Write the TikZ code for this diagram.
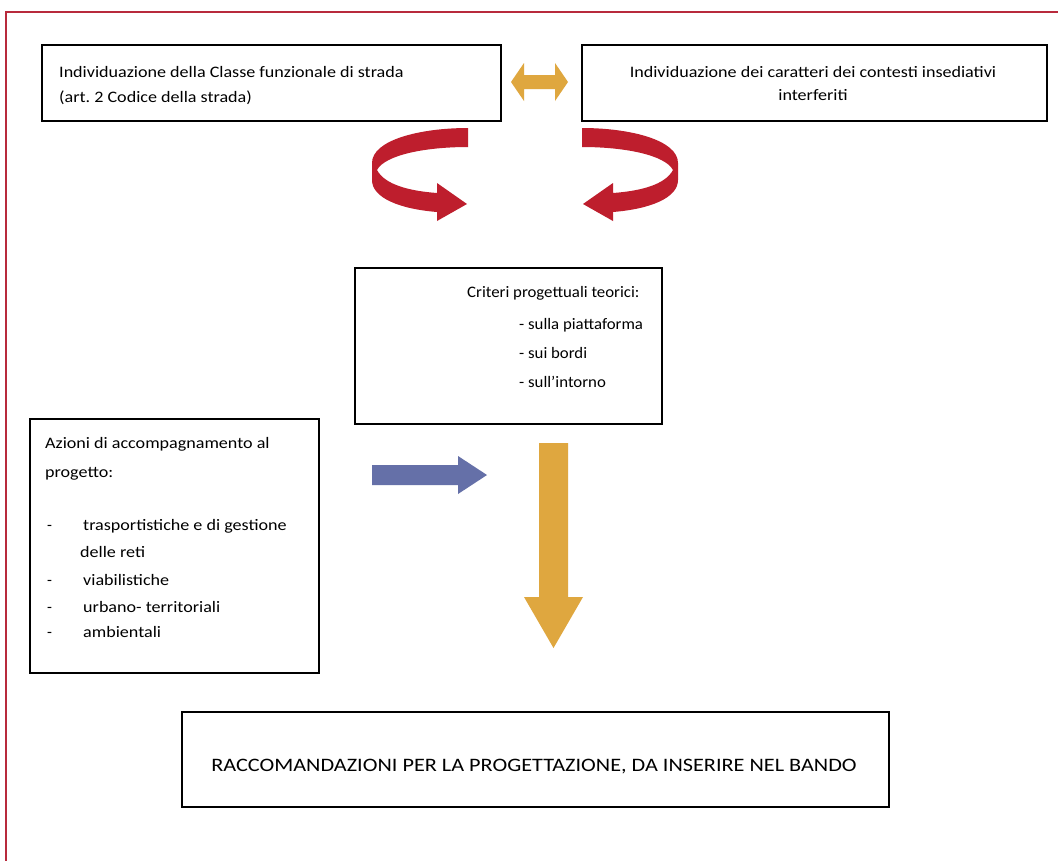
\documentclass[tikz,border=0pt]{standalone}
\usepackage{fontspec}
\setmainfont{Carlito}
\frenchspacing
\definecolor{framered}{HTML}{B82A3C}
\definecolor{arrred}{HTML}{BE1E2D}
\definecolor{arrorange}{HTML}{DFA73F}
\definecolor{arrblue}{HTML}{6570A8}
\newcommand\widetxt[1]{\scalebox{1.13}[1]{#1}}
\newcommand\crittxt[1]{\scalebox{1.05}[1]{#1}}
\tikzset{
  box/.style={draw=black, line width=1.6pt, fill=white, inner sep=0pt, anchor=north west},
  txt/.style={anchor=base west, inner sep=0pt, font=\fontsize{16}{19}\selectfont},
  ctxt/.style={anchor=base, inner sep=0pt, font=\fontsize{16}{19}\selectfont},
  curvarrow/.pic={
    \fill[arrred] (468,128) -- (468,147)
      .. controls (425,147) and (385,155) .. (377,170)
      .. controls (385,185) and (410,191) .. (437,193)
      -- (437,183) -- (467,204) -- (437,221) -- (437,212)
      .. controls (400,209) and (372,198) .. (372,180)
      -- (372,163)
      .. controls (372,140) and (420,128) .. (468,128) -- cycle;
  }
}
\begin{document}
\begin{tikzpicture}[x=1pt,y=-1pt]
\clip (0,0) rectangle (1058,860);
\fill[white] (0,0) rectangle (1058,860);
\draw[framered, line width=2pt] (6,12) rectangle (1100,900);

% boxes
\node[box, minimum width=459pt, minimum height=76pt] (b1) at (41,44) {};
\node[box, minimum width=465pt, minimum height=76pt] (b2) at (581,44) {};
\node[box, minimum width=307pt, minimum height=156pt] (crit) at (354,267) {};
\node[box, minimum width=289pt, minimum height=254pt] (azioni) at (29,418) {};
\node[box, minimum width=707pt, minimum height=95pt] (racc) at (181,711) {};

% texts box 1
\node[txt] (t1a) at (59,77) {\widetxt{Individuazione della Classe funzionale di strada}};
\node[txt] (t1b) at (59,102) {\widetxt{(art. 2 Codice della strada)}};
% texts box 2
\node[ctxt] (t2a) at (813,77) {\widetxt{Individuazione dei caratteri dei contesti insediativi}};
\node[ctxt] (t2b) at (813,100) {\widetxt{interferiti}};
% criteri
\node[txt] (tc0) at (467,297) {\crittxt{Criteri progettuali teorici:}};
\node[txt] (tc1) at (519,329) {\crittxt{- sulla piattaforma}};
\node[txt] (tc2) at (519,358) {\crittxt{- sui bordi}};
\node[txt] (tc3) at (519,387) {\crittxt{- sull’intorno}};
% azioni
\node[txt] (ta0) at (45,448) {\widetxt{Azioni di accompagnamento al}};
\node[txt] (ta1) at (45,477) {\widetxt{progetto:}};
\node[txt] (d1) at (47,530) {-};
\node[txt] (ta2) at (83,530) {\widetxt{trasportistiche e di gestione}};
\node[txt] (ta3) at (80,557) {\widetxt{delle reti}};
\node[txt] (d2) at (47,585) {-};
\node[txt] (ta4) at (83,585) {\widetxt{viabilistiche}};
\node[txt] (d3) at (47,612) {-};
\node[txt] (ta5) at (83,612) {\widetxt{urbano- territoriali}};
\node[txt] (d4) at (47,637) {-};
\node[txt] (ta6) at (83,637) {\widetxt{ambientali}};
% raccomandazioni
\node[anchor=base, inner sep=0pt, font=\fontsize{19}{22}\selectfont] (tr) at (534,771)
  {\scalebox{1.17}[1]{RACCOMANDAZIONI PER LA PROGETTAZIONE, DA INSERIRE NEL BANDO}};

% orange double arrow between top boxes
\fill[arrorange] (511,82) -- (524,63) -- (524,75) -- (555,75) -- (555,63) -- (568,82)
  -- (555,101) -- (555,89) -- (524,89) -- (524,101) -- cycle;

% red curved arrows
\pic at (0,0) {curvarrow};
\pic[xscale=-1] at (1050,0) {curvarrow};

% blue arrow
\fill[arrblue] (372,465) -- (458,465) -- (458,456) -- (487,475) -- (458,494)
  -- (458,485) -- (372,485) -- cycle;

% orange down arrow
\fill[arrorange] (539,443) -- (568,443) -- (568,597) -- (583,597) -- (553.5,648)
  -- (524,597) -- (539,597) -- cycle;
\end{tikzpicture}
\end{document}
